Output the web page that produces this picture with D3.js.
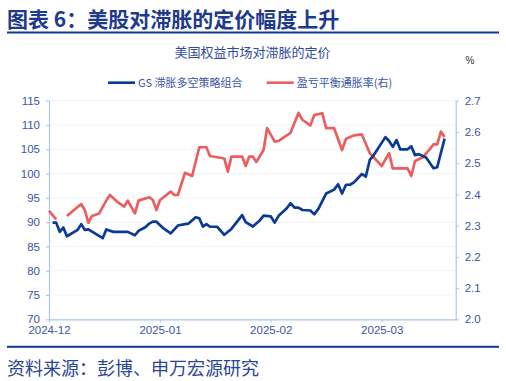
<!DOCTYPE html>
<html><head><meta charset="utf-8">
<script src="https://cdn.jsdelivr.net/npm/d3@7"></script>
<style>
html,body{margin:0;padding:0;background:#fff;}
svg{display:block;}
</style></head>
<body>
<svg id="chart" width="506" height="381"></svg>
<script>
const titleText = "图表 6：美股对滞胀的定价幅度上升";
const subtitleText = "美国权益市场对滞胀的定价";
const sourceText = "资料来源：彭博、申万宏源研究";
const seriesNames = ["GS 滞胀多空策略组合", "盈亏平衡通胀率(右)"];
const xTickDates = ["2024-12-01", "2025-01-01", "2025-02-01", "2025-03-01"];
const xTickLabels = ["2024-12", "2025-01", "2025-02", "2025-03"];
const leftTicks = [70, 75, 80, 85, 90, 95, 100, 105, 110, 115];
const rightTicks = [2.0, 2.1, 2.2, 2.3, 2.4, 2.5, 2.6, 2.7];

const gsDates = ["2024-12-02","2024-12-03","2024-12-04","2024-12-05","2024-12-06","2024-12-09","2024-12-10","2024-12-11","2024-12-12","2024-12-16","2024-12-17","2024-12-19","2024-12-23","2024-12-25","2024-12-26","2024-12-28","2024-12-29","2024-12-30","2024-12-31","2025-01-02","2025-01-04","2025-01-06","2025-01-08","2025-01-09","2025-01-11","2025-01-12","2025-01-13","2025-01-14","2025-01-15","2025-01-17","2025-01-19","2025-01-21","2025-01-24","2025-01-25","2025-01-27","2025-01-29","2025-01-30","2025-02-01","2025-02-02","2025-02-03","2025-02-05","2025-02-06","2025-02-07","2025-02-08","2025-02-09","2025-02-11","2025-02-12","2025-02-13","2025-02-15","2025-02-17","2025-02-18","2025-02-19","2025-02-20","2025-02-21","2025-02-22","2025-02-24","2025-02-25","2025-02-26","2025-02-27","2025-03-02","2025-03-03","2025-03-04","2025-03-05","2025-03-06","2025-03-08","2025-03-09","2025-03-10","2025-03-11","2025-03-13","2025-03-15","2025-03-16","2025-03-18"];
const gsValues = [89.9,89.9,88.0,88.9,87.1,88.4,89.6,88.4,88.5,86.7,88.5,88.0,88.0,87.3,88.2,89.0,89.7,90.1,90.1,88.7,87.7,89.3,89.6,89.7,91.0,90.8,89.1,89.6,89.05,89.05,87.4,88.6,91.45,90.0,89.1,90.4,91.35,91.2,89.9,91.3,92.8,93.9,93.0,93.0,92.5,92.4,91.6,92.7,95.9,96.7,97.8,95.9,97.7,97.7,98.2,99.9,99.4,102.8,103.8,107.5,106.7,105.5,106.9,105.0,105.0,105.6,103.8,104.0,103.3,101.1,101.3,107.2];

const beDates = ["2024-12-01","2024-12-03","2024-12-04","2024-12-06","2024-12-10","2024-12-11","2024-12-12","2024-12-13","2024-12-15","2024-12-17","2024-12-18","2024-12-20","2024-12-22","2024-12-23","2024-12-25","2024-12-26","2024-12-29","2024-12-30","2024-12-31","2025-01-01","2025-01-04","2025-01-05","2025-01-06","2025-01-08","2025-01-10","2025-01-12","2025-01-14","2025-01-15","2025-01-19","2025-01-20","2025-01-21","2025-01-24","2025-01-25","2025-01-26","2025-01-27","2025-01-28","2025-01-30","2025-01-31","2025-02-02","2025-02-03","2025-02-06","2025-02-08","2025-02-09","2025-02-11","2025-02-12","2025-02-14","2025-02-15","2025-02-17","2025-02-19","2025-02-20","2025-02-22","2025-02-24","2025-02-26","2025-03-01","2025-03-03","2025-03-04","2025-03-08","2025-03-09","2025-03-10","2025-03-12","2025-03-14","2025-03-15","2025-03-16","2025-03-17","2025-03-18"];
const beValues = [2.347,2.320,null,2.331,2.369,2.350,2.309,2.331,2.339,2.380,2.398,2.377,2.361,2.380,2.339,2.380,2.391,2.382,2.350,2.382,2.409,2.398,2.398,2.469,2.459,2.551,2.551,2.523,2.515,2.473,2.521,2.521,2.491,2.521,2.521,2.504,2.542,2.612,2.569,2.571,2.597,2.661,2.639,2.621,2.654,2.660,2.612,2.612,2.542,2.578,2.589,2.592,2.532,2.491,2.532,2.483,2.483,2.459,2.507,2.518,2.545,2.560,2.560,2.601,2.584];

const parse = d3.utcParse("%Y-%m-%d");
const cjk = "'Noto Sans CJK SC', 'Noto Sans', sans-serif";
const latin = "'Liberation Sans', Arial, sans-serif";
const navy = "#0e3a94";
const textBlue = "#3a55a6";
const axisBlue = "#a9c9ec";
const blueLine = "#0b3997";
const redLine = "#ea5e5f";

const svg = d3.select("#chart");
const L = 49, R = 455.7, T = 100.7, B = 319.3;

// title
svg.append("text").attr("x", 7).attr("y", 26.5)
  .attr("font-family", cjk).attr("font-weight", 700).attr("font-size", 21)
  .attr("fill", "#1d3a8e").text(titleText);
svg.append("rect").attr("x", 7).attr("y", 31.5).attr("width", 492).attr("height", 2).attr("fill", navy);
svg.append("rect").attr("x", 7).attr("y", 345.8).attr("width", 492).attr("height", 2).attr("fill", navy);
svg.append("text").attr("x", 7).attr("y", 374.5)
  .attr("font-family", cjk).attr("font-size", 18).attr("fill", "#2a4595").text(sourceText);

svg.append("text").attr("x", 252.5).attr("y", 57)
  .attr("text-anchor", "middle").attr("font-family", cjk).attr("font-size", 13)
  .attr("fill", "#2f4b9d").text(subtitleText);
svg.append("text").attr("x", 470).attr("y", 64)
  .attr("text-anchor", "middle").attr("font-family", latin).attr("font-size", 10)
  .attr("fill", "#333").text("%");

// scales
const x = d3.scaleUtc()
  .domain([parse("2024-12-01"), parse("2025-01-01"), parse("2025-02-01"), parse("2025-03-01"), parse("2025-03-21")])
  .range([L, L + 111, L + 221.7, L + 332.7, R]);
const yL = d3.scaleLinear().domain([70, 115]).range([B, T]);
const yR = d3.scaleLinear().domain([2.0, 2.7]).range([B, T]);

// faint grid
svg.append("g").selectAll("line").data(leftTicks).join("line")
  .attr("x1", L).attr("x2", R).attr("y1", d => yL(d)).attr("y2", d => yL(d))
  .attr("stroke", "#f1f3f8").attr("stroke-width", 1);

// axes
const styleAxis = (g) => {
  g.select(".domain").attr("stroke", axisBlue).attr("stroke-width", 1.2);
  g.selectAll(".tick line").attr("stroke", axisBlue).attr("stroke-width", 1.2);
  g.selectAll(".tick text").attr("fill", textBlue).attr("font-family", latin).attr("font-size", 11.5);
};
svg.append("g").attr("transform", `translate(${L},0)`)
  .call(d3.axisLeft(yL).tickValues(leftTicks).tickSize(3).tickPadding(6).tickSizeOuter(0))
  .call(styleAxis);
svg.append("g").attr("transform", `translate(${R},0)`)
  .call(d3.axisRight(yR).tickValues(rightTicks).tickSize(3).tickPadding(6).tickFormat(d3.format(".1f")).tickSizeOuter(0))
  .call(styleAxis);
svg.append("g").attr("transform", `translate(0,${B})`)
  .call(d3.axisBottom(x).tickValues(xTickDates.map(parse)).tickSize(3).tickPadding(4).tickSizeOuter(0)
    .tickFormat((d, i) => xTickLabels[i]))
  .call(styleAxis);

// lines
const gsData = gsDates.map((d, i) => ({ date: parse(d), v: gsValues[i] }));
const beData = beDates.map((d, i) => ({ date: parse(d), v: beValues[i] }));
svg.append("path").datum(beData)
  .attr("fill", "none").attr("stroke", redLine).attr("stroke-width", 2.7).attr("stroke-linejoin", "round")
  .attr("d", d3.line().defined(d => d.v != null).x(d => x(d.date)).y(d => yR(d.v)));
svg.append("path").datum(gsData)
  .attr("fill", "none").attr("stroke", blueLine).attr("stroke-width", 2.7).attr("stroke-linejoin", "round")
  .attr("d", d3.line().x(d => x(d.date)).y(d => yL(d.v)));

// legend
const legend = [
  { name: seriesNames[0], color: blueLine, x: 108 },
  { name: seriesNames[1], color: redLine, x: 266.7 }
];
const lg = svg.append("g");
legend.forEach(it => {
  lg.append("line").attr("x1", it.x).attr("x2", it.x + 27).attr("y1", 82.7).attr("y2", 82.7)
    .attr("stroke", it.color).attr("stroke-width", 2.6);
  lg.append("text").attr("x", it.x + 30).attr("y", 86.5)
    .attr("font-family", cjk).attr("font-size", 11).attr("fill", textBlue).text(it.name);
});
</script>
</body></html>
